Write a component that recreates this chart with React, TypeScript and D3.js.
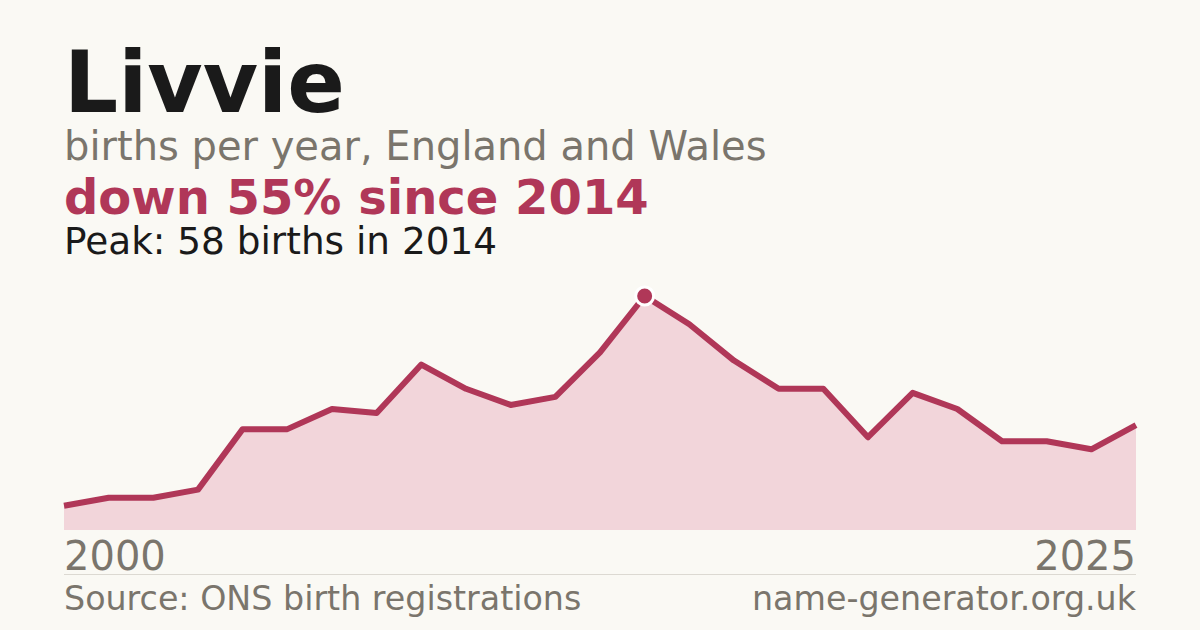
import { useEffect, useRef } from "react";
import * as d3 from "d3";

// births per year (one year missing from the registrations)
const years = [2000, 2002, 2003, 2004, 2005, 2006, 2007, 2008, 2009, 2010, 2011, 2012, 2013, 2014, 2015, 2016, 2017, 2018, 2019, 2020, 2021, 2022, 2023, 2024, 2025];
const births = [6, 8, 8, 10, 25, 25, 30, 29, 41, 35, 31, 33, 44, 58, 51, 42, 35, 35, 23, 34, 30, 22, 22, 20, 26];

const nameTitle = "Livvie";
const subtitle = "births per year, England and Wales";
const headline = "down 55% since 2014";
const peakNote = "Peak: 58 births in 2014";
const sourceNote = "Source: ONS birth registrations";
const siteNote = "name-generator.org.uk";

const App = () => {
    const chartRef = useRef<SVGSVGElement | null>(null);

    useEffect(() => {
        if (!chartRef.current) return;
        d3.select(chartRef.current).selectAll("*").remove();

        const width = 1200;
        const height = 630;
        const left = 64;
        const right = 1136;
        const crimson = "#b03758";
        const grey = "#7a756c";
        const font = "'DejaVu Sans', sans-serif";

        const svg = d3
            .select(chartRef.current)
            .attr("width", width)
            .attr("height", height)
            .style("display", "block");

        svg.append("rect")
            .attr("width", width)
            .attr("height", height)
            .attr("fill", "#faf9f4");

        const x = d3
            .scalePoint<number>()
            .domain(years)
            .range([left, right]);

        const y = d3
            .scaleLinear()
            .domain([0, d3.max(births)!])
            .range([530, 296]);

        const pts = years.map((yr, i) => ({ yr, v: births[i] }));

        // Area under the line
        const area = d3
            .area<{ yr: number; v: number }>()
            .x((d) => x(d.yr)!)
            .y0(y(0))
            .y1((d) => y(d.v));

        svg.append("path")
            .datum(pts)
            .attr("d", area)
            .attr("fill", "#f2d5da");

        const line = d3
            .line<{ yr: number; v: number }>()
            .x((d) => x(d.yr)!)
            .y((d) => y(d.v));

        svg.append("path")
            .datum(pts)
            .attr("d", line)
            .attr("fill", "none")
            .attr("stroke", crimson)
            .attr("stroke-width", 6)
            .attr("stroke-linejoin", "round");

        // Peak marker
        const peak = pts.reduce((a, b) => (b.v > a.v ? b : a));
        svg.append("circle")
            .attr("cx", x(peak.yr)!)
            .attr("cy", y(peak.v))
            .attr("r", 9)
            .attr("fill", crimson)
            .attr("stroke", "#ffffff")
            .attr("stroke-width", 3);

        // Titles
        svg.append("text")
            .attr("x", left)
            .attr("y", 112)
            .attr("font-family", font)
            .attr("font-weight", "bold")
            .attr("font-size", 85)
            .attr("fill", "#1a1a1a")
            .text(nameTitle);

        svg.append("text")
            .attr("x", left)
            .attr("y", 160)
            .attr("font-family", font)
            .attr("font-size", 40)
            .attr("fill", grey)
            .text(subtitle);

        svg.append("text")
            .attr("x", left)
            .attr("y", 214)
            .attr("font-family", font)
            .attr("font-weight", "bold")
            .attr("font-size", 48)
            .attr("fill", crimson)
            .text(headline);

        svg.append("text")
            .attr("x", left)
            .attr("y", 254)
            .attr("font-family", font)
            .attr("font-size", 37.4)
            .attr("fill", "#1a1a1a")
            .text(peakNote);

        // Axis end labels
        svg.append("text")
            .attr("x", left)
            .attr("y", 570)
            .attr("font-family", font)
            .attr("font-size", 40)
            .attr("fill", grey)
            .text(String(years[0]));

        svg.append("text")
            .attr("x", right)
            .attr("y", 570)
            .attr("text-anchor", "end")
            .attr("font-family", font)
            .attr("font-size", 40)
            .attr("fill", grey)
            .text(String(years[years.length - 1]));

        svg.append("line")
            .attr("x1", left)
            .attr("x2", right)
            .attr("y1", 574.5)
            .attr("y2", 574.5)
            .attr("stroke", "#dcd9d2")
            .attr("stroke-width", 1);

        // Footer
        svg.append("text")
            .attr("x", left)
            .attr("y", 610)
            .attr("font-family", font)
            .attr("font-size", 33.3)
            .attr("fill", grey)
            .text(sourceNote);

        svg.append("text")
            .attr("x", right)
            .attr("y", 610)
            .attr("text-anchor", "end")
            .attr("font-family", font)
            .attr("font-size", 33.3)
            .attr("fill", grey)
            .text(siteNote);
    }, []);

    return (
        <div>
            <style>{`body { margin: 0; }`}</style>
            <svg ref={chartRef}></svg>
        </div>
    );
};

export default App;
